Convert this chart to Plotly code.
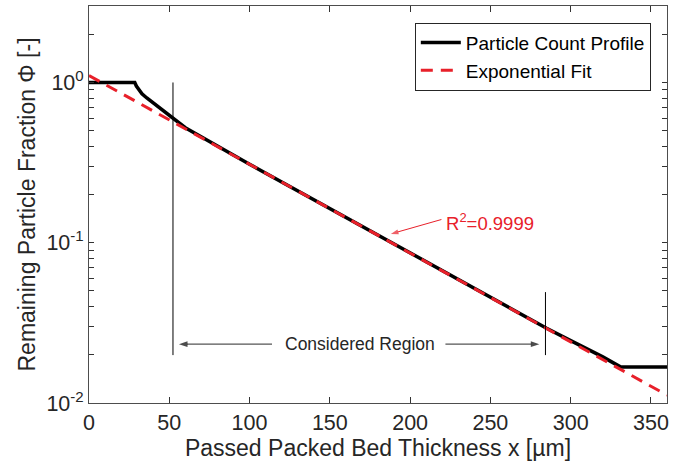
import math
import plotly.graph_objects as go

# Particle count profile
profile_x = [0, 28.5, 29.5, 31, 33, 36, 40, 45, 50, 55, 60, 100, 150, 200, 250, 285, 300, 320, 331, 360]
profile_y = [1.0, 1.0, 0.95, 0.90, 0.85, 0.80, 0.745, 0.685, 0.628, 0.57, 0.522, 0.309, 0.163,
             0.0863, 0.0456, 0.0293, 0.0245, 0.0194, 0.0168, 0.0168]

# Exponential fit (straight on log scale)
fit_x = [0, 360]
fit_y = [1.105, 0.0112]

# Considered region boundaries
region_x = [52.3, 284.3]
region_top = [1.0, 0.0492]
region_bottom = 0.0199
region_arrow_y = 0.0233
region_label = "Considered Region"
region_label_x = 168.5
region_arrow_inner = [114, 222]
region_arrow_heads = [56.0, 280.5]

# R^2 annotation
r2_text = "R<sup>2</sup>=0.9999"
r2_text_pos = (250, 0.1343)
r2_head = (188.0, 0.1135)
r2_tail = (219.5, 0.1396)

x_ticks = [0, 50, 100, 150, 200, 250, 300, 350]
y_major = [0.01, 0.1, 1]
y_major_text = ["10<sup>-2</sup>", "10<sup>-1</sup>", "10<sup>0</sup>"]
y_minor = [m * 10 ** e for e in (-2, -1, 0) for m in range(2, 10)]

FONT = "Liberation Sans, Arial, sans-serif"
TXT = "#262626"
AX = "#333333"
RED = "#e8202a"

y_tickvals = y_major + y_minor
y_ticktext = y_major_text + [""] * len(y_minor)

fig = go.Figure()

fig.add_trace(go.Scatter(x=profile_x, y=profile_y, mode="lines",
                         line=dict(color="black", width=3.5),
                         name="Particle Count Profile"))
fig.add_trace(go.Scatter(x=fit_x, y=fit_y, mode="lines",
                         line=dict(color=RED, width=3, dash="12px,8px"),
                         name="Exponential Fit"))

for xv, top in zip(region_x, region_top):
    fig.add_trace(go.Scatter(x=[xv, xv], y=[top, region_bottom], mode="lines",
                             line=dict(color="black", width=1),
                             showlegend=False, hoverinfo="skip"))

# Considered-region double arrow (two halves, heads pointing outward)
for inner, head in zip(region_arrow_inner, region_arrow_heads):
    fig.add_trace(go.Scatter(x=[inner, head], y=[region_arrow_y, region_arrow_y],
                             mode="lines+markers",
                             line=dict(color="#555555", width=1.2),
                             marker=dict(symbol="arrow", angleref="previous",
                                         size=[0, 9], color="black",
                                         line=dict(width=0)),
                             showlegend=False, hoverinfo="skip"))

fig.add_annotation(x=region_label_x, y=math.log10(region_arrow_y), xref="x", yref="y",
                   text=region_label, showarrow=False,
                   font=dict(family=FONT, size=17.5, color=TXT))

# R^2 arrow
fig.add_trace(go.Scatter(x=[r2_tail[0], r2_head[0]], y=[r2_tail[1], r2_head[1]],
                         mode="lines+markers",
                         line=dict(color=RED, width=1),
                         marker=dict(symbol="arrow", angleref="previous",
                                     size=[0, 8], color=RED, line=dict(width=0)),
                         showlegend=False, hoverinfo="skip"))
fig.add_annotation(x=r2_text_pos[0], y=math.log10(r2_text_pos[1]), xref="x", yref="y",
                   text=r2_text, showarrow=False,
                   font=dict(family=FONT, size=18.5, color=RED))

fig.update_layout(
    width=674, height=472,
    margin=dict(l=89, r=5, t=6, b=69),
    paper_bgcolor="white", plot_bgcolor="white",
    font=dict(family=FONT, color=TXT),
    showlegend=True,
    legend=dict(x=0.972, y=0.958, xanchor="right", yanchor="top",
                bgcolor="white", bordercolor=TXT, borderwidth=1,
                font=dict(family=FONT, size=19, color="black"),
                tracegroupgap=0, itemwidth=40),
)

fig.update_xaxes(range=[0, 360], tickvals=x_ticks, ticks="inside", ticklen=6,
                 tickwidth=1.2, tickcolor=AX, showline=True, linecolor="#4d4d4d",
                 mirror="allticks", showgrid=False, zeroline=False,
                 tickfont=dict(family=FONT, size=21.5, color=TXT),
                 title=dict(text="Passed Packed Bed Thickness x [µm]",
                            font=dict(family=FONT, size=23, color=TXT), standoff=4))
fig.update_yaxes(type="log", range=[-2, math.log10(3)], tickvals=y_tickvals,
                 ticktext=y_ticktext, ticks="inside", ticklen=5, tickwidth=1.2, tickcolor=AX,
                 showline=True, linecolor="#4d4d4d", mirror="allticks",
                 showgrid=False, zeroline=False,
                 tickfont=dict(family=FONT, size=21.5, color=TXT),
                 title=dict(text="Remaining Particle Fraction Φ [-]",
                            font=dict(family=FONT, size=23, color=TXT), standoff=4))

fig.write_html("out.html")
